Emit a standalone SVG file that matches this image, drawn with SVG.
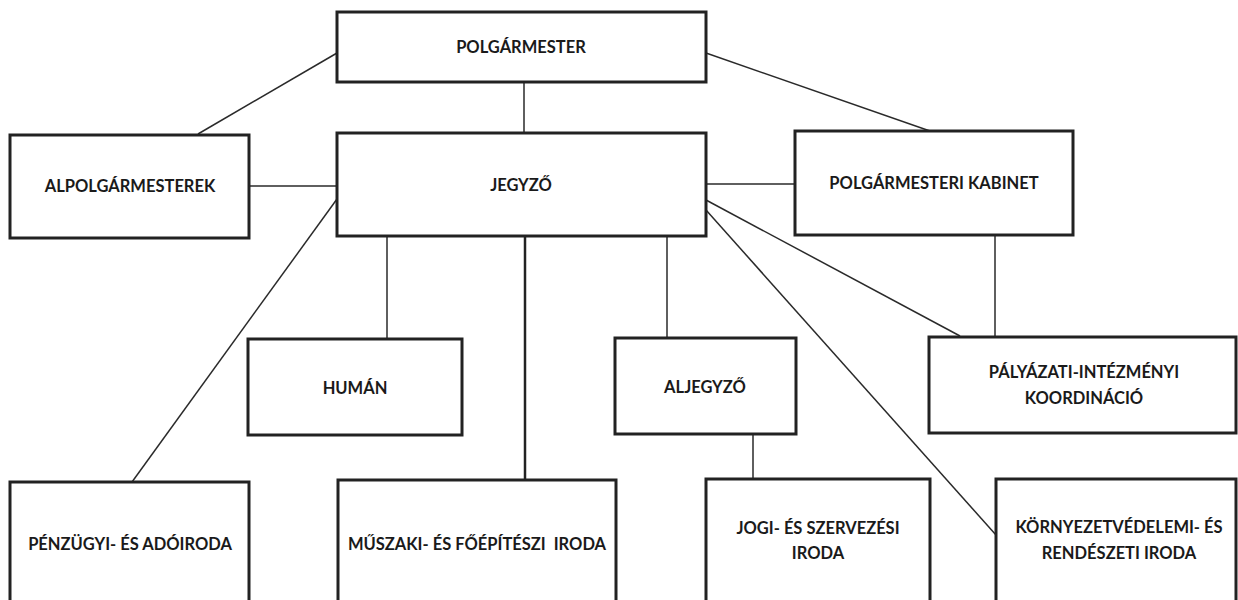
<svg xmlns="http://www.w3.org/2000/svg" width="1238" height="600" viewBox="0 0 1238 600">
<style>
.box{fill:#fff;stroke:#222;stroke-width:3}
.t{font-family:Lato,"Liberation Sans",Arial,sans-serif;font-weight:bold;font-size:16.5px;fill:#1a1a1a;text-anchor:middle;white-space:pre}
.c{stroke:#2a2a2a;stroke-width:1.5;fill:none}
.ct{stroke:#222;stroke-width:2.5;fill:none}
</style>
<rect width="1238" height="600" fill="#fff"/>
<g id="connectors">
<line class="c" x1="337" y1="53" x2="198" y2="134"/>
<line class="c" x1="706" y1="53" x2="930" y2="131"/>
<line class="c" x1="524" y1="82" x2="524" y2="133"/>
<line class="c" x1="249" y1="186" x2="337" y2="186"/>
<line class="c" x1="706" y1="184" x2="795" y2="184"/>
<line class="c" x1="337" y1="199" x2="132" y2="482"/>
<line class="c" x1="387" y1="236" x2="387" y2="339"/>
<line class="ct" x1="525" y1="236" x2="525" y2="480"/>
<line class="c" x1="667" y1="236" x2="667" y2="338"/>
<line class="c" x1="706" y1="200" x2="960" y2="336"/>
<line class="c" x1="706" y1="210" x2="996" y2="535"/>
<line class="c" x1="995" y1="235" x2="995" y2="337"/>
<line class="c" x1="753" y1="434" x2="753" y2="479"/>
</g>
<g id="polgarmester">
<rect class="box" x="337" y="12" width="369" height="70"/>
<text class="t" x="521" y="53">POLGÁRMESTER</text>
</g>
<g id="alpolgarmesterek">
<rect class="box" x="10" y="135" width="239" height="103"/>
<text class="t" x="130" y="192">ALPOLGÁRMESTEREK</text>
</g>
<g id="jegyzo">
<rect class="box" x="337" y="133" width="369" height="103"/>
<text class="t" x="521" y="191">JEGYZŐ</text>
</g>
<g id="kabinet">
<rect class="box" x="795" y="131" width="278" height="104"/>
<text class="t" x="934" y="189">POLGÁRMESTERI KABINET</text>
</g>
<g id="human">
<rect class="box" x="248" y="339" width="214" height="96"/>
<text class="t" x="355" y="394">HUMÁN</text>
</g>
<g id="aljegyzo">
<rect class="box" x="615" y="338" width="181" height="96"/>
<text class="t" x="705" y="393">ALJEGYZŐ</text>
</g>
<g id="palyazati">
<rect class="box" x="929" y="337" width="307" height="96"/>
<text class="t" x="1084" y="378">PÁLYÁZATI-INTÉZMÉNYI</text>
<text class="t" x="1084" y="404">KOORDINÁCIÓ</text>
</g>
<g id="penzugyi">
<rect class="box" x="10" y="482" width="239" height="130"/>
<text class="t" x="130" y="550">PÉNZÜGYI- ÉS ADÓIRODA</text>
</g>
<g id="muszaki">
<rect class="box" x="338" y="480" width="278" height="132"/>
<text class="t" x="477" y="550" xml:space="preserve">MŰSZAKI- ÉS FŐÉPÍTÉSZI  IRODA</text>
</g>
<g id="jogi">
<rect class="box" x="706" y="479" width="224" height="133"/>
<text class="t" x="818" y="534">JOGI- ÉS SZERVEZÉSI</text>
<text class="t" x="818" y="559">IRODA</text>
</g>
<g id="kornyezet">
<rect class="box" x="996" y="479" width="240" height="133"/>
<text class="t" x="1119" y="533">KÖRNYEZETVÉDELEMI- ÉS</text>
<text class="t" x="1119" y="559">RENDÉSZETI IRODA</text>
</g>
</svg>
